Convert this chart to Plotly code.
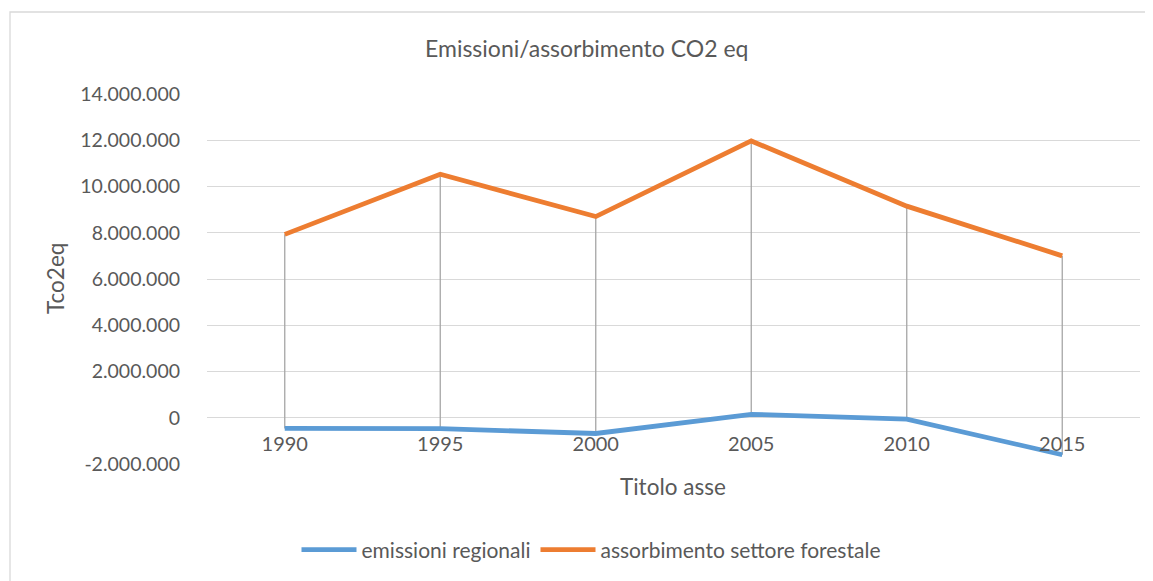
import plotly.graph_objects as go

years = ["1990", "1995", "2000", "2005", "2010", "2015"]
emissioni = [-460000, -470000, -680000, 150000, -60000, -1600000]
assorbimento = [7930000, 10530000, 8700000, 11970000, 9150000, 7000000]
ytick_vals = [-2000000, 0, 2000000, 4000000, 6000000, 8000000, 10000000, 12000000, 14000000]
ytick_text = ["-2.000.000", "0", "2.000.000", "4.000.000", "6.000.000", "8.000.000",
              "10.000.000", "12.000.000", "14.000.000"]

FONT = "Lato"
GREY = "#595959"
OFF = 8  # page body margin offset

# high-low (drop) lines between the two series
dx, dy = [], []
for c, a, e in zip(years, assorbimento, emissioni):
    dx += [c, c, None]
    dy += [a, e, None]

fig = go.Figure()
fig.add_trace(go.Scatter(x=dx, y=dy, mode="lines", line=dict(color="#a6a6a6", width=1.3),
                         showlegend=False, hoverinfo="skip"))
fig.add_trace(go.Scatter(x=years, y=emissioni, mode="lines", name="emissioni regionali",
                         line=dict(color="#5b9bd5", width=4.8)))
fig.add_trace(go.Scatter(x=years, y=assorbimento, mode="lines", name="assorbimento settore forestale",
                         line=dict(color="#ed7d31", width=4.8)))

W, H = 1153, 581
L = 207 - OFF
T = 94 - OFF
R = W - (1140 - OFF)
B = H - (464 - OFF)
pw = W - L - R
ph = H - T - B

def px_x(x):
    return (x - OFF - L) / pw

def px_y(y):
    return (H - B - (y - OFF)) / ph

fig.update_layout(
    width=W, height=H,
    margin=dict(l=L, r=R, t=T, b=B, pad=0),
    paper_bgcolor="white", plot_bgcolor="white",
    font=dict(family=FONT, color=GREY, size=20),
    showlegend=True,
    legend=dict(orientation="h", x=px_x(591), xanchor="center", y=px_y(550), yanchor="middle",
                font=dict(size=21, color=GREY), itemwidth=55, tracegroupgap=0,
                bgcolor="rgba(0,0,0,0)"),
    xaxis=dict(type="category", showgrid=False, zeroline=False, showline=False,
               ticks="", anchor="free", position=0.125,
               tickfont=dict(size=20, color=GREY), ticklabelstandoff=12,
               range=[-0.5, 5.5]),
    yaxis=dict(range=[-2000000, 14000000], tickvals=ytick_vals, ticktext=ytick_text,
               showgrid=True, gridcolor="#d9d9d9", gridwidth=1.3,
               zeroline=True, zerolinecolor="#d9d9d9", zerolinewidth=1.3,
               showline=False, ticks="", tickfont=dict(size=19.5, color=GREY),
               ticklabelstandoff=26),
    annotations=[
        dict(text="Emissioni/assorbimento CO2 eq", x=px_x(586), y=px_y(48), xref="paper", yref="paper",
             showarrow=False, font=dict(size=23, color=GREY), xanchor="center", yanchor="middle"),
        dict(text="Titolo asse", x=px_x(673), y=px_y(486), xref="paper", yref="paper",
             showarrow=False, font=dict(size=22.5, color=GREY), xanchor="center", yanchor="middle"),
        dict(text="Tco2eq", x=px_x(55), y=px_y(279), xref="paper", yref="paper", textangle=-90,
             showarrow=False, font=dict(size=22.5, color=GREY), xanchor="center", yanchor="middle"),
    ],
    shapes=[
        dict(type="rect", xref="paper", yref="paper",
             x0=px_x(10), x1=px_x(1190), y0=px_y(620), y1=px_y(12),
             line=dict(color="#d9d9d9", width=1.3), fillcolor="rgba(0,0,0,0)", layer="below"),
    ],
)

fig.write_html("out.html")
